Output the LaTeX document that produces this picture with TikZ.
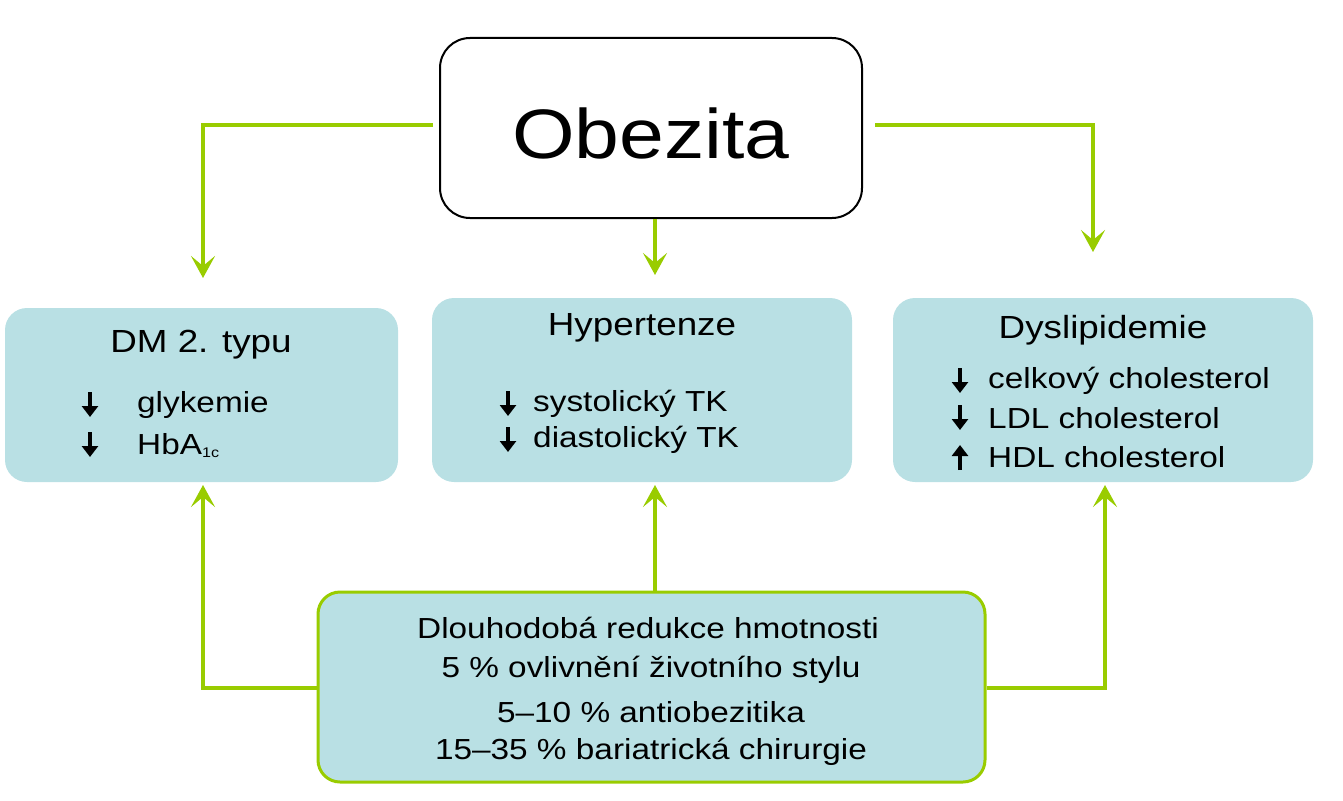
\documentclass[tikz,border=0pt]{standalone}
\usepackage{fontspec}
\setmainfont[FakeStretch=1.15]{Liberation Sans}
\usetikzlibrary{arrows.meta}
\definecolor{lg}{HTML}{99CC00}
\definecolor{bx}{HTML}{B9E0E4}
\begin{document}
\begin{tikzpicture}[x=1pt,y=-1pt,
  blue box/.style={fill=bx,rounded corners=22pt,inner sep=0pt},
  conn/.style={draw=lg,line width=3.5pt,-{Stealth[length=22pt,width=24pt,inset=10pt]}},
  tx/.style={anchor=west,font=\fontsize{29}{30}\selectfont,inner sep=0pt},
  ttl/.style={font=\fontsize{32}{34}\selectfont},
  rt/.style={font=\fontsize{29}{30}\selectfont},
  dn/.style={line width=4pt,-{Triangle[length=11pt,width=16pt]}}]
\useasboundingbox (0,0) rectangle (1343,800);
\node[draw=black,line width=2pt,rounded corners=30pt,minimum width=422pt,minimum height=180pt] (ob) at (651,128) {};
\node[font=\fontsize{70}{80}\selectfont] at (651,133) {Obezita};
\node[blue box,minimum width=393pt,minimum height=174pt] (dm) at (201.5,395) {};
\node[blue box,minimum width=420pt,minimum height=184pt] (hy) at (642,390) {};
\node[blue box,minimum width=420pt,minimum height=184pt] (dy) at (1103,390) {};
\node[draw=lg,line width=3pt,fill=bx,rounded corners=22pt,minimum width=667pt,minimum height=190pt] (rd) at (651.5,687) {};
% texts
\node[ttl] (t1) at (201,345) {DM 2. typu};
\draw[dn] (90,392) -- (90,417); \node[tx] (g1) at (137,405) {glykemie};
\draw[dn] (90,432) -- (90,457); \node[tx] (g2) at (137,446) {HbA\raisebox{-3pt}{\fontsize{14}{14}\selectfont 1c}};
\node[ttl] (t2) at (642,328) {Hypertenze};
\draw[dn] (508,391) -- (508,416); \node[tx] (h1) at (533,404) {systolický TK};
\draw[dn] (508,427) -- (508,452); \node[tx] (h2) at (533,440) {diastolický TK};
\node[ttl] (t3) at (1103,330) {Dyslipidemie};
\draw[dn] (960,368) -- (960,393); \node[tx] (d1) at (988,381) {celkový cholesterol};
\draw[dn] (960,405) -- (960,430); \node[tx] (d2) at (988,418) {LDL cholesterol};
\draw[dn] (960,470) -- (960,445); \node[tx] (d3) at (988,457) {HDL cholesterol};
\node[rt] (r1) at (648,628) {Dlouhodobá redukce hmotnosti};
\node[rt] (r2) at (651,670) {5 \% ovlivnění životního stylu};
\node[rt] (r3) at (651,712) {5–10 \% antiobezitika};
\node[rt] (r4) at (651,752) {15–35 \% bariatrická chirurgie};
% connectors
\coordinate (c1) at (203,125); \coordinate (e1) at (203,278);
\draw[conn] (433,125) -- (c1) -- (e1);
\coordinate (c2) at (1093,125); \coordinate (e2) at (1093,252);
\draw[conn] (875,125) -- (c2) -- (e2);
\draw[conn] (ob.south -| 655,0) -- (655,275);
\coordinate (c3) at (203,688);
\draw[conn] (rd.west |- 0,688) -- (c3) -- (203,485);
\coordinate (c4) at (1105,688);
\draw[conn] (rd.east |- 0,688) -- (c4) -- (1105,485);
\draw[conn] (rd.north -| 655,0) -- (655,485);
\end{tikzpicture}
\end{document}
